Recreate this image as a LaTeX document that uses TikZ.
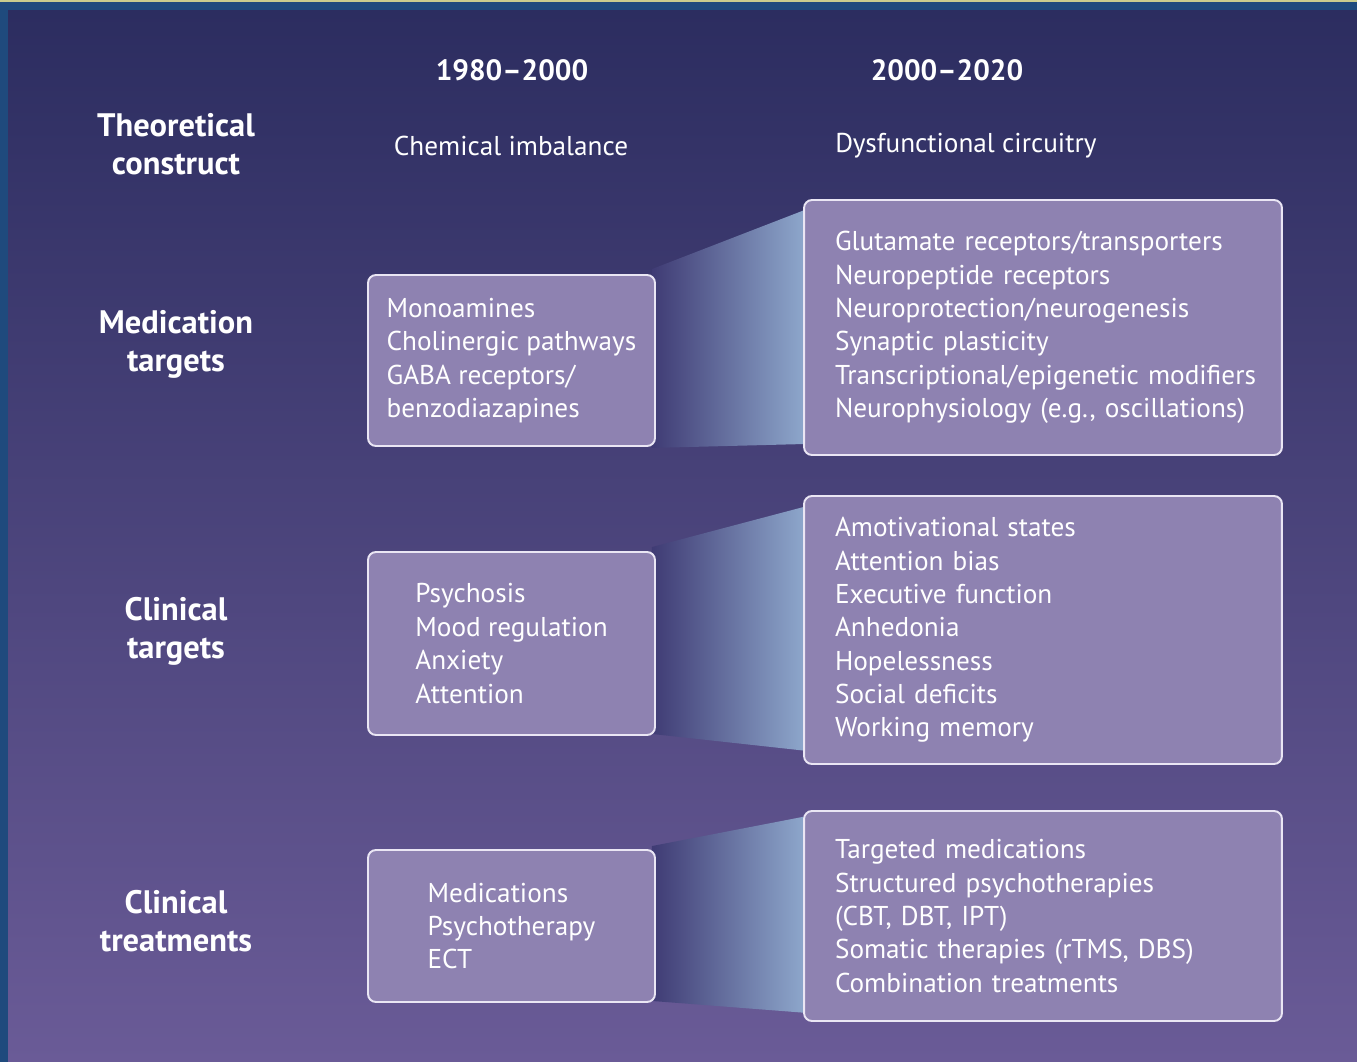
\documentclass[tikz,border=0pt]{standalone}
\usepackage{fontspec}
\setmainfont{PT Sans}
\usetikzlibrary{calc, backgrounds}

\definecolor{frameblue}{HTML}{1F4A7D}
\definecolor{topline}{HTML}{C9CC8E}
\definecolor{bgtop}{HTML}{2C2D60}
\definecolor{bgbot}{HTML}{6A5B97}
\definecolor{boxfill}{HTML}{8E82B1}
\definecolor{boxline}{HTML}{EAE6F4}
\definecolor{beamlight}{HTML}{8FA9CD}
\definecolor{beamdark}{HTML}{3F3B74}

\begin{document}
\begin{tikzpicture}[x=0.02cm, y=-0.02cm,
    every node/.style={text=white, font=\fontsize{15.5}{19}\selectfont},
    colhead/.style={font=\fontsize{16.7}{21}\selectfont\bfseries},
    rowlabel/.style={font=\fontsize{18.5}{21.6}\selectfont\bfseries, align=center},
    oldbox/.style={draw=boxline, fill=boxfill, line width=1.1pt, rounded corners=4.5pt,
      align=left, minimum width=5.74cm},
    newbox/.style={draw=boxline, fill=boxfill, line width=1.1pt, rounded corners=4.5pt,
      align=left, text width=8.32cm, inner xsep=0.62cm},
    beam/.style={left color=beamdark, right color=beamlight}]

  \useasboundingbox (0,0) rectangle (1357,1062);

  % column heads
  \node[colhead] (h-old) at (512,70) {1980--2000};
  \node[colhead] (h-new) at (947,70) {2000--2020};

  % row labels
  \node[rowlabel] (l-theory) at (176,144) {Theoretical\\construct};
  \node[rowlabel] (l-med) at (176,344) {Medication\\targets};
  \node[rowlabel] (l-clin) at (176,631) {Clinical\\targets};
  \node[rowlabel] (l-treat) at (176,921) {Clinical\\treatments};

  % theoretical construct
  \node (theory-old) at (511,146) {Chemical imbalance};
  \node[anchor=west, inner xsep=0pt] (theory-new) at (835,146) {Dysfunctional circuitry};

  % boxes
  \node[oldbox, minimum height=3.42cm] (med-old) at (511.5,360.5)
    {Monoamines\\Cholinergic pathways\\GABA receptors/\\benzodiazapines};
  \node[newbox, minimum height=5.10cm] (med-new) at (1043,327.5)
    {Glutamate receptors/transporters\\Neuropeptide receptors\\Neuroprotection/neurogenesis\\Synaptic plasticity\\\mbox{Transcriptional/epigenetic modifiers}\\Neurophysiology (e.g., oscillations)};

  \node[oldbox, minimum height=3.66cm] (clin-old) at (511.5,643.5)
    {Psychosis\\Mood regulation\\Anxiety\\Attention};
  \node[newbox, minimum height=5.36cm] (clin-new) at (1043,630)
    {Amotivational states\\Attention bias\\Executive function\\Anhedonia\\Hopelessness\\Social deficits\\Working memory};

  \node[oldbox, minimum height=3.04cm] (treat-old) at (511.5,926)
    {Medications\\Psychotherapy\\ECT};
  \node[newbox, minimum height=4.20cm] (treat-new) at (1043,916)
    {Targeted medications\\Structured psychotherapies\\(CBT, DBT, IPT)\\Somatic therapies (rTMS, DBS)\\Combination treatments};

  \begin{scope}[on background layer]
    % frame and background
    \fill[frameblue] (0,0) rectangle (1357,1062);
    \fill[topline] (0,0) rectangle (1357,1.5);
    \shade[top color=bgtop, bottom color=bgbot] (8,10) rectangle (1357,1062);
    % beams between boxes
    \shade[beam] ($(med-old.north east)+(-4,-5)$) -- ($(med-new.north west)+(4,10)$)
      -- ($(med-new.south west)+(4,-12)$) -- ($(med-old.south east)+(-4,1)$) -- cycle;
    \shade[beam] ($(clin-old.north east)+(-4,-4)$) -- ($(clin-new.north west)+(4,11)$)
      -- ($(clin-new.south west)+(4,-14)$) -- ($(clin-old.south east)+(-4,-2)$) -- cycle;
    \shade[beam] ($(treat-old.north east)+(-4,-3)$) -- ($(treat-new.north west)+(4,6)$)
      -- ($(treat-new.south west)+(4,-9)$) -- ($(treat-old.south east)+(-4,-2)$) -- cycle;
  \end{scope}
\end{tikzpicture}
\end{document}
